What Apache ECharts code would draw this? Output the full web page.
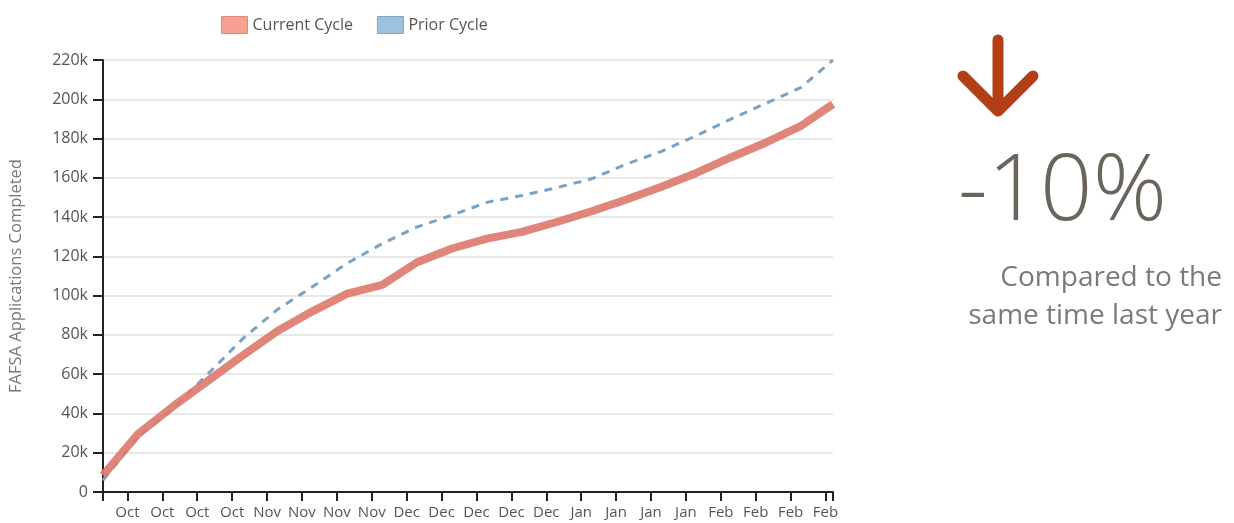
<!DOCTYPE html>
<html>
<head>
<meta charset="utf-8">
<script src="https://cdn.jsdelivr.net/npm/echarts@6/dist/echarts.min.js"></script>
<style>
html,body{margin:0;padding:0;background:#fff;}
#chart{width:1234px;height:523px;}
</style>
</head>
<body>
<div id="chart"></div>
<script>
// Days since the first reading (weekly readings, last one partial week)
const xDays = [0, 7, 14, 21, 28, 35, 42, 49, 56, 63, 70, 77, 84, 91, 98, 105, 112, 119, 126, 133, 140, 146.4];
const currentCycle = [8500, 29500, 43500, 56500, 69500, 82000, 92000, 101000, 105500, 117000, 124000, 129000, 132500, 137500, 143000, 149000, 155500, 162500, 170500, 178000, 186500, 197500];
const priorCycle = [6000, 28000, 42500, 60000, 78000, 93000, 104500, 116500, 126500, 135000, 141000, 147500, 151000, 155000, 159500, 167000, 173500, 181500, 190000, 198000, 206000, 220000];
// Weekly tick positions (days) and their labels
const tickDays = [4.9, 11.9, 18.9, 25.9, 32.9, 39.9, 46.9, 53.9, 60.9, 67.9, 74.9, 81.9, 88.9, 95.9, 102.9, 109.9, 116.9, 123.9, 130.9, 137.9, 144.9];
const tickLabels = ['Oct','Oct','Oct','Oct','Nov','Nov','Nov','Nov','Dec','Dec','Dec','Dec','Dec','Jan','Jan','Jan','Jan','Feb','Feb','Feb','Feb'];
const yTicks = ['0','20k','40k','60k','80k','100k','120k','140k','160k','180k','200k','220k'];
const seriesNames = ['Current Cycle', 'Prior Cycle'];
const changeText = '-10%';
const noteLines = ['Compared to the', 'same time last year'];

const X_MAX = 146.4;
const FONT = '"Open Sans", Lato, sans-serif';

const chart = echarts.init(document.getElementById('chart'), null, {renderer: 'canvas'});
const labelMap = {};
tickDays.forEach((d, i) => { labelMap[d.toFixed(1)] = tickLabels[i]; });

const option = {
  animation: false,
  backgroundColor: '#fff',
  textStyle: {fontFamily: FONT},
  legend: {
    top: 11,
    left: 216,
    itemWidth: 26,
    itemHeight: 17,
    itemGap: 24,
    textStyle: {fontSize: 16, color: '#555', fontFamily: FONT},
    data: [
      {name: seriesNames[0], icon: 'rect', itemStyle: {color: '#f6a092', borderColor: '#e3897b', borderWidth: 1}},
      {name: seriesNames[1], icon: 'rect', itemStyle: {color: '#9cc2df', borderColor: '#7fa7c7', borderWidth: 1}}
    ]
  },
  grid: {left: 103, right: 401, top: 60, bottom: 31, containLabel: false},
  xAxis: {
    type: 'value',
    min: 0,
    max: X_MAX,
    splitLine: {show: false},
    axisLine: {show: true, lineStyle: {color: '#222', width: 2}},
    axisTick: {show: true, length: 9, lineStyle: {color: '#222', width: 2}, customValues: [0].concat(tickDays, [X_MAX])},
    axisLabel: {
      customValues: tickDays,
      formatter: v => labelMap[Number(v).toFixed(1)] || '',
      fontSize: 15, color: '#555', margin: 13, fontFamily: FONT
    }
  },
  yAxis: {
    type: 'value',
    min: 0,
    max: 220000,
    interval: 20000,
    name: 'FAFSA Applications Completed',
    nameLocation: 'middle',
    nameRotate: 90,
    nameGap: 78,
    nameTextStyle: {fontSize: 16.5, color: '#777', fontFamily: FONT},
    axisLine: {show: true, lineStyle: {color: '#222', width: 2}},
    axisTick: {show: true, length: 10, lineStyle: {color: '#222', width: 2}},
    axisLabel: {
      formatter: v => yTicks[Math.round(v / 20000)],
      fontSize: 16, color: '#555', margin: 15, fontFamily: FONT
    },
    splitLine: {show: true, lineStyle: {color: '#e8e8e8', width: 2}}
  },
  series: [
    {
      name: seriesNames[1],
      type: 'line',
      data: xDays.map((d, i) => [d, priorCycle[i]]),
      showSymbol: false,
      z: 2,
      lineStyle: {color: '#7aa2c3', width: 3, type: [8, 7]},
      itemStyle: {color: '#9cc2df'}
    },
    {
      name: seriesNames[0],
      type: 'line',
      data: xDays.map((d, i) => [d, currentCycle[i]]),
      showSymbol: false,
      z: 3,
      lineStyle: {color: '#dd7b6f', width: 8, opacity: 0.92, cap: 'butt', join: 'round'},
      itemStyle: {color: '#f6a092'}
    }
  ],
  graphic: [
    {type: 'polyline', shape: {points: [[998, 40], [998, 110]]}, style: {stroke: '#b33f17', lineWidth: 11, lineCap: 'round', fill: null}},
    {type: 'polyline', shape: {points: [[963, 76], [998, 111], [1033, 76]]}, style: {stroke: '#b33f17', lineWidth: 11, lineCap: 'round', lineJoin: 'round', fill: null}},
    {type: 'text', left: 958, top: 148, style: {text: changeText, font: '300 92px ' + FONT, fill: '#6a645d'}},
    {type: 'text', right: 12, top: 264, style: {text: noteLines[0], font: '400 28px ' + FONT, fill: '#7a7a7a', textAlign: 'right'}},
    {type: 'text', right: 12, top: 302, style: {text: noteLines[1], font: '400 28px ' + FONT, fill: '#7a7a7a', textAlign: 'right'}}
  ]
};
chart.setOption(option);
</script>
</body>
</html>
